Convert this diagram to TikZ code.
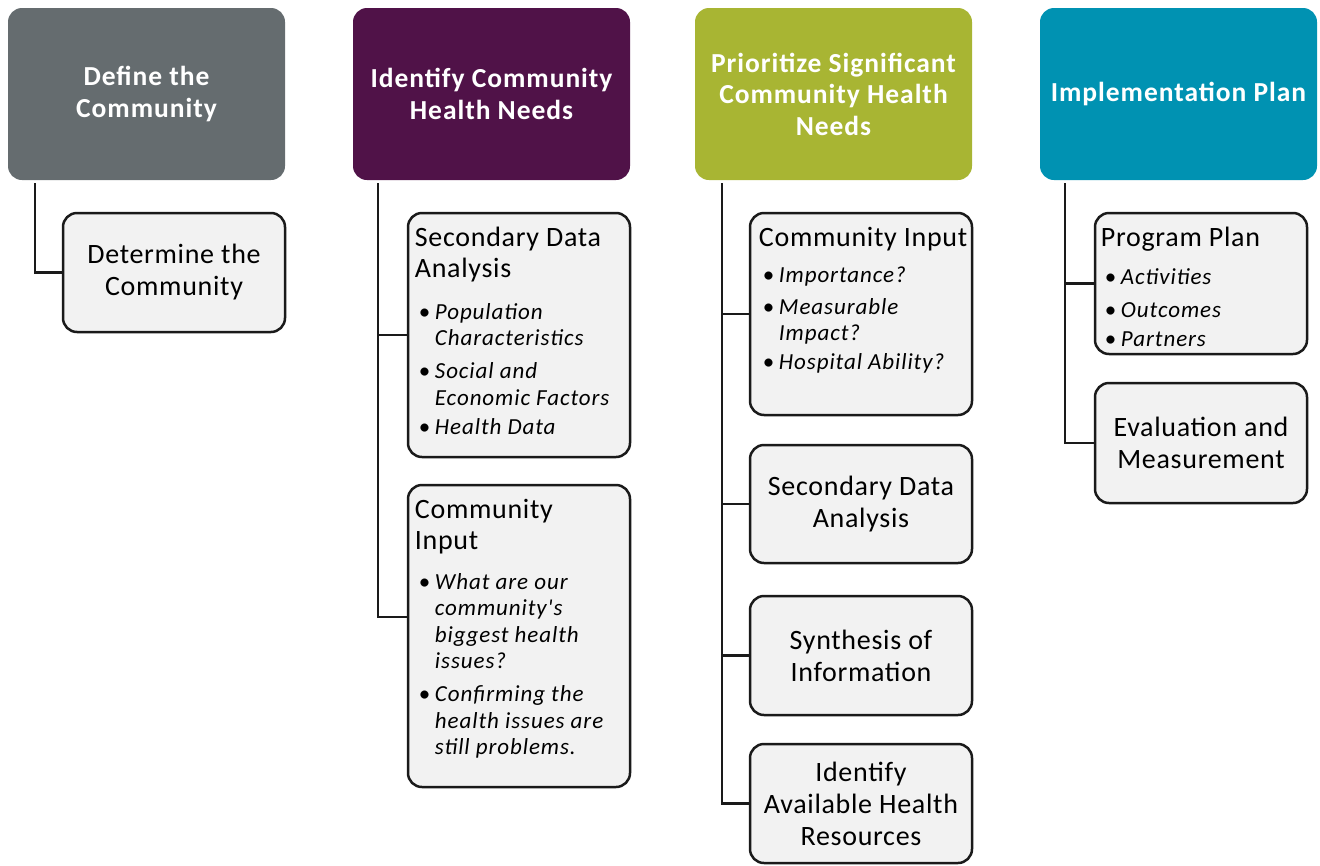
\documentclass[tikz,border=0pt]{standalone}
\usepackage{fontspec}
\setmainfont{Carlito}
\newfontfamily\hdfont[LetterSpace=3.5]{Carlito}
\newfontfamily\subfont[LetterSpace=2.5]{Carlito}
\newfontfamily\itemfont[LetterSpace=4]{Carlito}
\usepackage{xcolor}
\usetikzlibrary{positioning, calc}

\definecolor{hdgray}{HTML}{656C6F}
\definecolor{hdpurple}{HTML}{501248}
\definecolor{hdgreen}{HTML}{A8B533}
\definecolor{hdteal}{HTML}{0092B2}
\definecolor{subfill}{HTML}{F2F2F2}
\definecolor{linkgray}{HTML}{1A1A1A}

% bullet line in the sub boxes (\newline for the breaks)
\newcommand{\bitem}[2][5pt]{\par\vspace{#1}\itemfont\fontsize{23}{26.5}\selectfont
  \hangindent=20pt\hangafter=1\noindent\hspace*{4pt}\makebox[16pt][l]{\textbullet}\textit{#2}\par}

\tikzset{
  header/.style={rectangle, rounded corners=14, minimum width=277, minimum height=172,
    text=white, font=\hdfont\bfseries\fontsize{27.5}{31.5}\selectfont, align=center, inner sep=0},
  sub/.style={rectangle, rounded corners=14, draw=linkgray, line width=2.5, fill=subfill,
    minimum width=222, font=\subfont\fontsize{28}{32}\selectfont, align=center, inner sep=0},
  subtext/.style={anchor=north west, inner sep=0, text width=212, align=flush left,
    font=\subfont\fontsize{28}{31}\selectfont},
  link/.style={line width=2.5, draw=linkgray}
}

\begin{document}
\begin{tikzpicture}[x=1pt, y=-1pt]
\useasboundingbox (0,0) rectangle (1320,865);

% headers
\node[header, fill=hdgray] (define) at (146.5,94) {Define the\\Community};
\node[header, fill=hdpurple] (identify) at (491.5,94) {Identify Community\\Health Needs};
\node[header, fill=hdgreen] (prioritize) at (833.5,94) {Prioritize Significant\\Community Health\\Needs};
\node[header, fill=hdteal] (implement) at (1178.5,94) {Implementation Plan};

% column 1
\node[sub, minimum height=119] (determine) at (174,272.5) {Determine the\\Community};
\coordinate (t1) at ([xshift=27pt,yshift=-3pt]define.south west);
\draw[link] (t1) |- (determine.west);

% column 2
\node[sub, minimum height=244] (sda2) at (519,335) {};
\node[subtext] (sda2txt) at ([xshift=8pt,yshift=-15pt]sda2.north west)
  {Secondary Data\\Analysis\bitem[15.5pt]{Population\newline Characteristics}\bitem[6.5pt]{Social and\newline Economic Factors}\bitem[2.5pt]{Health Data}};
\node[sub, minimum height=302] (input2) at (519,636) {};
\node[subtext] (input2txt) at ([xshift=8pt,yshift=-15pt]input2.north west)
  {Community\\Input\bitem[13.5pt]{What are our\newline community's\newline biggest health\newline issues?}\bitem[6.5pt]{Confirming the\newline health issues are\newline still problems.}};
\coordinate (t2) at ([xshift=25pt,yshift=-3pt]identify.south west);
\draw[link] (t2) |- (sda2.west);
\draw[link] (t2) |- ([yshift=19pt]input2.west);

% column 3
\node[sub, minimum height=202] (input3) at (861,314) {};
\node[subtext] (input3txt) at ([xshift=10pt,yshift=-15pt]input3.north west)
  {Community Input\bitem[9.5pt]{Importance?}\bitem[5.5pt]{Measurable\newline Impact?}\bitem[2.5pt]{Hospital Ability?}};
\node[sub, minimum height=118] (sda3) at (861,504) {Secondary Data\\Analysis};
\node[sub, minimum height=119] (synth) at (861,655.5) {Synthesis of\\Information};
\node[sub, minimum height=119] (avail) at (861,803.5) {Identify\\Available Health\\Resources};
\coordinate (t3) at ([xshift=27pt,yshift=-3pt]prioritize.south west);
\foreach \b in {input3, sda3, synth, avail}
  \draw[link] (t3) |- (\b.west);

% column 4
\node[sub, minimum width=212, minimum height=141] (program) at (1201,283.5) {};
\node[subtext] (programtxt) at ([xshift=7pt,yshift=-15pt]program.north west)
  {Program Plan\bitem[11.5pt]{Activities}\bitem[6.5pt]{Outcomes}\bitem[2.5pt]{Partners}};
\node[sub, minimum width=212, minimum height=120] (evaluate) at (1201,443) {Evaluation and\\Measurement};
\coordinate (t4) at ([xshift=25pt,yshift=-3pt]implement.south west);
\draw[link] (t4) |- (program.west);
\draw[link] (t4) |- (evaluate.west);
\end{tikzpicture}
\end{document}
